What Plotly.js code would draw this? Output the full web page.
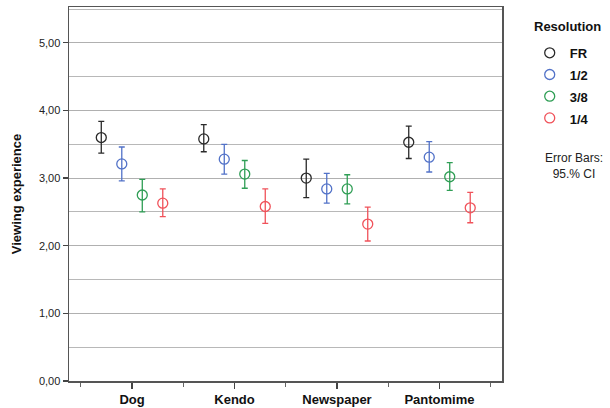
<!DOCTYPE html>
<html><head><meta charset="utf-8">
<script src="https://cdn.plot.ly/plotly-3.0.1.min.js"></script>
<style>body{margin:0;background:#fff}#chart{width:610px;height:408px}</style>
</head><body><div id="chart"></div>
<script>
const categories = ["Dog", "Kendo", "Newspaper", "Pantomime"];
const seriesNames = ["FR", "1/2", "3/8", "1/4"];
const seriesColors = ["#2a2a2a", "#5272c8", "#2f9e55", "#f0525a"];
const seriesOffsets = [-0.3, -0.1, 0.1, 0.3];

const meanFR = [3.60, 3.58, 3.00, 3.53];
const upperFR = [3.84, 3.79, 3.28, 3.77];
const lowerFR = [3.37, 3.39, 2.71, 3.29];

const mean12 = [3.21, 3.28, 2.84, 3.31];
const upper12 = [3.46, 3.50, 3.07, 3.54];
const lower12 = [2.96, 3.06, 2.63, 3.09];

const mean38 = [2.75, 3.06, 2.84, 3.02];
const upper38 = [2.98, 3.26, 3.05, 3.23];
const lower38 = [2.50, 2.85, 2.62, 2.82];

const mean14 = [2.63, 2.58, 2.32, 2.56];
const upper14 = [2.84, 2.84, 2.57, 2.79];
const lower14 = [2.43, 2.33, 2.07, 2.34];

const yTickVals = [0, 1, 2, 3, 4, 5];
const yTickText = ["0,00", "1,00", "2,00", "3,00", "4,00", "5,00"];

const means = [meanFR, mean12, mean38, mean14];
const uppers = [upperFR, upper12, upper38, upper14];
const lowers = [lowerFR, lower12, lower38, lower14];

const traces = seriesNames.map((name, s) => ({
  type: "scatter", mode: "markers",
  name: '<span style="font-size:13px">' + name + '</span>',
  x: categories.map((c, i) => i + seriesOffsets[s]),
  y: means[s],
  marker: {symbol: "circle-open", size: 10, color: seriesColors[s], line: {width: 1.3, color: seriesColors[s]}},
  error_y: {type: "data", symmetric: false,
    array: uppers[s].map((u, i) => u - means[s][i]),
    arrayminus: lowers[s].map((l, i) => means[s][i] - l),
    color: seriesColors[s], thickness: 1.3, width: 3},
  hoverinfo: "skip"
}));

const layout = {
  width: 610, height: 408,
  margin: {l: 69, r: 108, t: 7, b: 27},
  paper_bgcolor: "#fff", plot_bgcolor: "#fff",
  font: {family: "Liberation Sans, Arial, sans-serif", color: "#222"},
  showlegend: true,
  legend: {x: 1.064, xanchor: "left", y: 0.92, yanchor: "top",
    font: {size: 14.4, color: "#111", family: "Liberation Sans, Arial, sans-serif", weight: "bold"},
    itemwidth: 30, tracegroupgap: 0, bgcolor: "rgba(0,0,0,0)"},
  xaxis: {
    range: [-0.615, 3.61], tickmode: "array", tickvals: [0, 1, 2, 3], ticktext: categories,
    ticks: "outside", ticklen: 6, tickcolor: "#444", tickwidth: 1.3,
    minor: {tickmode: "array", tickvals: [-0.5, 0.5, 1.5, 2.5, 3.5], ticks: "outside", ticklen: 4, tickcolor: "#666", showgrid: false},
    showline: true, linecolor: "#555", linewidth: 1.5, mirror: true,
    showgrid: false, zeroline: false,
    tickfont: {size: 13, color: "#111", weight: "bold"}
  },
  yaxis: {
    range: [0, 5.53], tickmode: "array", tickvals: yTickVals, ticktext: yTickText,
    ticks: "outside", ticklen: 5, tickcolor: "#444", tickwidth: 1.3,
    showline: true, linecolor: "#555", linewidth: 1.5, mirror: true,
    showgrid: true, gridcolor: "#b0b0b0", gridwidth: 1, zeroline: false,
    minor: {tickmode: "array", tickvals: [0.5, 1.5, 2.5, 3.5, 4.5, 5.5], showgrid: true, gridcolor: "#b8b8b8", gridwidth: 1, ticks: ""},
    tickfont: {size: 11, color: "#222"},
    title: {text: "Viewing experience", font: {size: 13, color: "#111", weight: "bold"}, standoff: 14}
  },
  annotations: [
    {text: "Resolution", xref: "paper", yref: "paper", x: 1.07, y: 0.974, xanchor: "left", yanchor: "top",
     showarrow: false, font: {size: 13, color: "#111", weight: "bold"}},
    {text: "Error Bars:<br>95.% CI", xref: "paper", yref: "paper", x: 1.166, y: 0.62, xanchor: "center", yanchor: "top",
     showarrow: false, font: {size: 12, color: "#222"}, align: "center"}
  ]
};
Plotly.newPlot("chart", traces, layout, {displayModeBar: false, staticPlot: true});
</script></body></html>
